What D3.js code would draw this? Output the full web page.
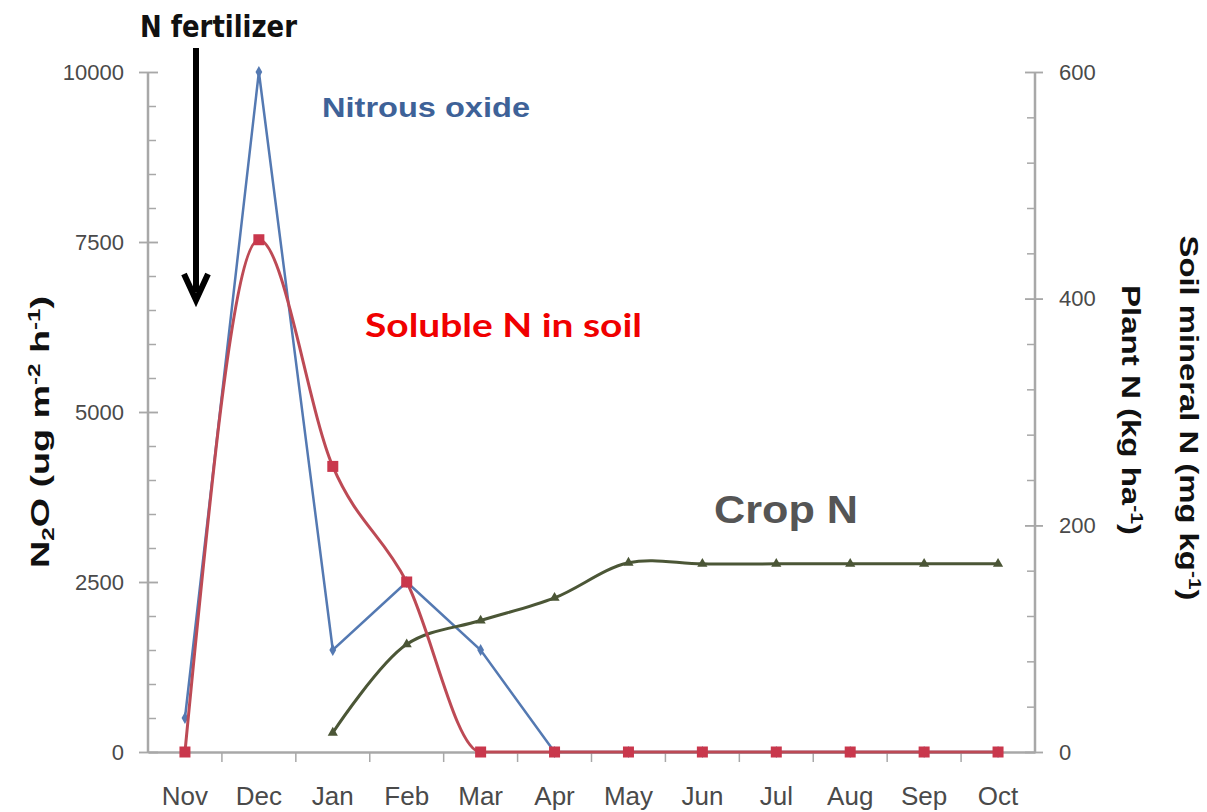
<!DOCTYPE html>
<html>
<head>
<meta charset="utf-8">
<script src="https://cdn.jsdelivr.net/npm/d3@7"></script>
<style>
  body { margin: 0; background: #fff; }
  svg { display: block; }
</style>
</head>
<body>
<div class="content"></div>
<script>
// chart values
var months = ["Nov", "Dec", "Jan", "Feb", "Mar", "Apr", "May", "Jun", "Jul", "Aug", "Sep", "Oct"];
var n2o = [500, 10000, 1500, 2500, 1500, 0, 0, 0, 0, 0, 0, 0];          // ug m-2 h-1, left axis
var solubleN = [0, 452, 252, 150, 0, 0, 0, 0, 0, 0, 0, 0];              // mg kg-1, right axis
var cropN = [null, null, 17, 95, 116, 136, 167, 166, 166, 166, 166, 166]; // kg ha-1, right axis
var leftTicks = [0, 2500, 5000, 7500, 10000];
var rightTicks = [0, 200, 400, 600];

var W = 1207, H = 812;
var margin = {top: 72, right: 172, bottom: 60, left: 148};

var x = d3.scaleBand().domain(months).range([margin.left, W - margin.right]);
var yL = d3.scaleLinear().domain([0, 10000]).range([H - margin.bottom, margin.top]);
var yR = d3.scaleLinear().domain([0, 600]).range([H - margin.bottom, margin.top]);
var cx = function(i) { return x(months[i]) + x.bandwidth() / 2; };

var svg = d3.select('.content').append("svg").attr("width", W).attr("height", H);
svg.append("rect").attr("width", W).attr("height", H).attr("fill", "#fff");

var axisCol = "#a8a8a8", labCol = "#4a4a4a";
var tickFont = "'Liberation Sans', Arial, sans-serif";

// left axis: minor ticks inside, major ticks crossing
var gl = svg.append("g").attr("transform", "translate(" + margin.left + ",0)");
gl.call(d3.axisRight(yL).tickValues(d3.range(0, 10001, 500)).tickSize(8).tickFormat(""));
gl.append("g").call(d3.axisLeft(yL).tickValues(leftTicks).tickSize(10).tickPadding(14).tickFormat(d3.format("d")));
gl.selectAll("g.tick line").attr("stroke", axisCol).attr("stroke-width", 1.5);
gl.selectAll("g.tick").filter(function(d) { return leftTicks.indexOf(d) >= 0; }).select("line").attr("x2", 10).attr("x1", -9);
gl.selectAll(".domain").attr("stroke", "none");
gl.append("line").attr("y1", yL(0)).attr("y2", yL(10000)).attr("stroke", axisCol).attr("stroke-width", 2.5);
gl.selectAll("text").attr("fill", labCol).style("font-family", tickFont).style("font-size", "22px");

// right axis
var gr = svg.append("g").attr("transform", "translate(" + (W - margin.right) + ",0)");
gr.call(d3.axisLeft(yR).tickValues(d3.range(0, 601, 40)).tickSize(8).tickFormat(""));
gr.append("g").call(d3.axisRight(yR).tickValues(rightTicks).tickSize(8).tickPadding(16));
gr.selectAll("g.tick line").attr("stroke", axisCol).attr("stroke-width", 1.5);
gr.selectAll(".domain").attr("stroke", "none");
gr.append("line").attr("y1", yR(0)).attr("y2", yR(600)).attr("stroke", axisCol).attr("stroke-width", 2.5);
gr.selectAll("g.tick").filter(function(d) { return rightTicks.indexOf(d) >= 0; }).select("line").attr("x1", -10).attr("x2", 8);
gr.selectAll("text").attr("fill", labCol).style("font-family", tickFont).style("font-size", "22px");

// bottom axis, ticks between months
var gb = svg.append("g").attr("transform", "translate(0," + (H - margin.bottom) + ")");
gb.call(d3.axisBottom(x).tickSize(0).tickPadding(35));
gb.selectAll(".domain").attr("stroke", axisCol).attr("stroke-width", 2.5);
gb.selectAll("text").attr("fill", labCol).style("font-family", tickFont).style("font-size", "26px");
gb.selectAll("line.sep").data(months.slice(1)).enter().append("line").attr("class", "sep")
  .attr("x1", function(d) { return x(d); }).attr("x2", function(d) { return x(d); })
  .attr("y1", 0).attr("y2", 10).attr("stroke", axisCol).attr("stroke-width", 1.5);

// series
var blueCol = "#5479b2", redCol = "#bd4a55", redMark = "#c9374c", greenCol = "#4b5636";

var lineN2O = d3.line().x(function(d, i) { return cx(i); }).y(function(d) { return yL(d); });
svg.append("path").datum(n2o).attr("d", lineN2O).attr("fill", "none").attr("stroke", blueCol).attr("stroke-width", 2.5);
svg.selectAll("path.dia").data(n2o).enter().append("path").attr("class", "dia")
  .attr("d", d3.symbol(d3.symbolDiamond, 40))
  .attr("transform", function(d, i) { return "translate(" + cx(i) + "," + yL(d) + ")"; })
  .attr("fill", blueCol);

var cropIdx = cropN.map(function(v, i) { return v === null ? -1 : i; }).filter(function(i) { return i >= 0; });
var lineCrop = d3.line().defined(function(d) { return d !== null; })
  .x(function(d, i) { return cx(i); }).y(function(d) { return yR(d); }).curve(d3.curveCatmullRom);
svg.append("path").datum(cropN).attr("d", lineCrop).attr("fill", "none").attr("stroke", greenCol).attr("stroke-width", 3);
svg.selectAll("path.tri").data(cropIdx).enter().append("path").attr("class", "tri")
  .attr("d", d3.symbol(d3.symbolTriangle, 45))
  .attr("transform", function(i) { return "translate(" + cx(i) + "," + yR(cropN[i]) + ")"; })
  .attr("fill", greenCol);

var lineSoil = d3.line().x(function(d, i) { return cx(i); }).y(function(d) { return yR(d); }).curve(d3.curveMonotoneX);
svg.append("path").datum(solubleN).attr("d", lineSoil).attr("fill", "none").attr("stroke", redCol).attr("stroke-width", 3);
svg.selectAll("rect.sq").data(solubleN).enter().append("rect").attr("class", "sq")
  .attr("x", function(d, i) { return cx(i) - 5.5; }).attr("y", function(d) { return yR(d) - 5.5; })
  .attr("width", 11).attr("height", 11).attr("fill", redMark);

// annotations
function label(txt, x0, y0, size, len, col, fam) {
  return svg.append("text").attr("x", x0).attr("y", y0).text(txt)
    .attr("textLength", len).attr("lengthAdjust", "spacingAndGlyphs")
    .style("font-family", fam).style("font-weight", "bold").style("font-size", size + "px").attr("fill", col);
}
label("N fertilizer", 140, 37, 30, 157, "#111", "'DejaVu Sans Condensed', 'DejaVu Sans', sans-serif");
svg.append("line").attr("x1", 196).attr("x2", 196).attr("y1", 48).attr("y2", 292).attr("stroke", "#000").attr("stroke-width", 6);
svg.append("path").attr("d", "M184,274 L196,300 L208,274").attr("fill", "none").attr("stroke", "#000").attr("stroke-width", 6);

label("Nitrous oxide", 322, 117, 28, 208, "#3e6298", "'Liberation Sans', Arial, sans-serif");
label("Soluble N in soil", 365, 337, 33, 277, "#f00000", "Lato, 'Open Sans', sans-serif");
label("Crop N", 714, 523, 38, 144, "#555", "'Liberation Sans', Arial, sans-serif");

// axis titles
var tl = svg.append("text").attr("transform", "translate(49,432) rotate(-90)").attr("text-anchor", "middle")
  .attr("textLength", 272).attr("lengthAdjust", "spacingAndGlyphs")
  .style("font-family", "'Liberation Sans', Arial, sans-serif").style("font-weight", "bold").style("font-size", "25px").attr("fill", "#111");
tl.append("tspan").text("N");
tl.append("tspan").text("2").attr("dy", 5).style("font-size", "16px");
tl.append("tspan").text("O  (ug m").attr("dy", -5);
tl.append("tspan").text("-2").attr("dy", -9).style("font-size", "16px");
tl.append("tspan").text(" h").attr("dy", 9);
tl.append("tspan").text("-1").attr("dy", -9).style("font-size", "16px");
tl.append("tspan").text(")").attr("dy", 9);

var tr1 = svg.append("text").attr("transform", "translate(1122,410) rotate(90)").attr("text-anchor", "middle")
  .attr("textLength", 250).attr("lengthAdjust", "spacingAndGlyphs")
  .style("font-family", "'Liberation Sans', Arial, sans-serif").style("font-weight", "bold").style("font-size", "25px").attr("fill", "#111");
tr1.append("tspan").text("Plant N (kg ha");
tr1.append("tspan").text("-1").attr("dy", -9).style("font-size", "16px");
tr1.append("tspan").text(")").attr("dy", 9);

var tr2 = svg.append("text").attr("transform", "translate(1180,418) rotate(90)").attr("text-anchor", "middle")
  .attr("textLength", 365).attr("lengthAdjust", "spacingAndGlyphs")
  .style("font-family", "'Liberation Sans', Arial, sans-serif").style("font-weight", "bold").style("font-size", "25px").attr("fill", "#111");
tr2.append("tspan").text("Soil mineral N (mg kg");
tr2.append("tspan").text("-1").attr("dy", -9).style("font-size", "16px");
tr2.append("tspan").text(")").attr("dy", 9);
</script>
</body>
</html>
